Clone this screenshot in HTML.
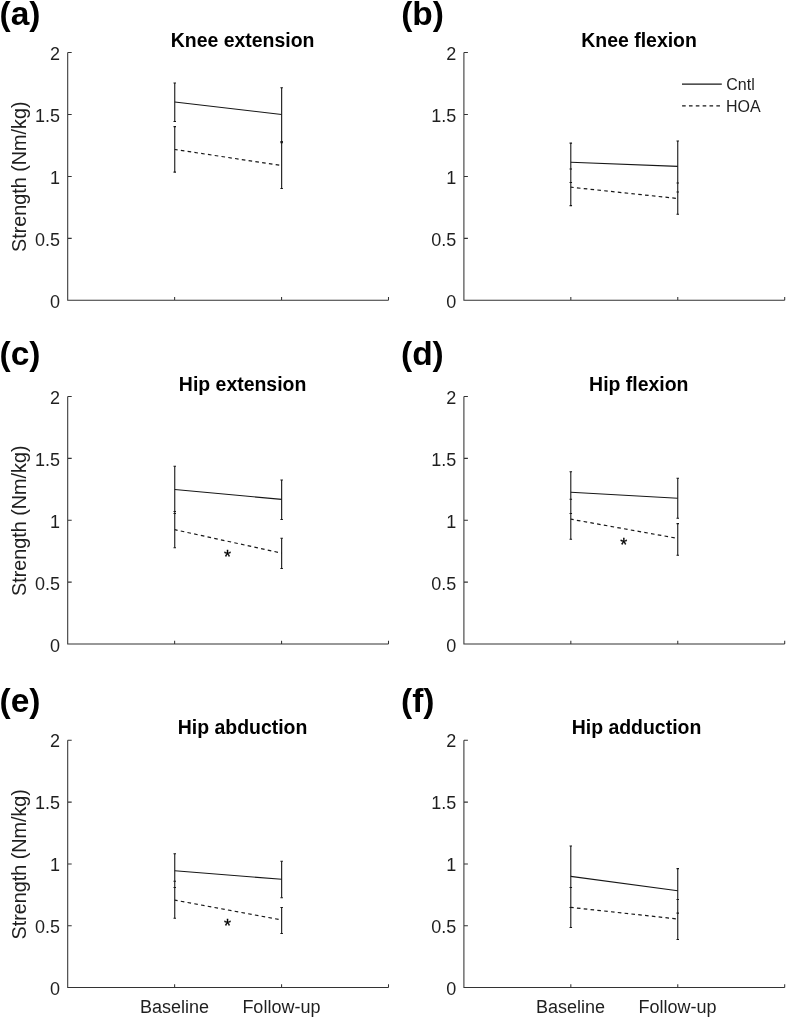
<!DOCTYPE html>
<html lang="en"><head><meta charset="utf-8"><title>Strength figure</title>
<style>
html,body{margin:0;padding:0;background:#fff;}
body{width:787px;height:1018px;overflow:hidden;}
svg{display:block;}
text{font-family:"Liberation Sans", Arial, Helvetica, sans-serif;fill:#1f1f1f;}
.tk{font-size:18px;}
.ti{font-size:19.45px;font-weight:bold;fill:#000;}
.yl{font-size:19.75px;}
.lg{font-size:16px;}
.pn{font-size:33.5px;font-weight:bold;fill:#000;}
.st{font-size:18px;fill:#000;stroke:#000;stroke-width:0.3px;}
.ax{stroke:#333333;stroke-width:1.05;fill:none;}
.ln{stroke:#171717;stroke-width:1.1;fill:none;}
.ds{stroke:#171717;stroke-width:1.2;fill:none;stroke-dasharray:3.6 3.25;stroke-dashoffset:0.7;}
.eb{stroke:#171717;stroke-width:1.1;fill:none;}
.cp{stroke:#171717;stroke-width:1.05;fill:none;}
</style></head><body>
<svg width="787" height="1018" viewBox="0 0 787 1018">
<rect x="0" y="0" width="787" height="1018" fill="#ffffff"/>
<g id="panel-a">
<path class="ax" d="M67.70 52.50V300.30H388.50M67.70 238.35h4.00M67.70 176.40h4.00M67.70 114.45h4.00M67.70 52.50h4.00M174.63 300.30v-3.30M281.57 300.30v-3.30M388.50 300.30v-3.30"/>
<text class="tk" x="60.1" y="307.6" text-anchor="end">0</text>
<text class="tk" x="60.1" y="245.7" text-anchor="end">0.5</text>
<text class="tk" x="60.1" y="183.7" text-anchor="end">1</text>
<text class="tk" x="60.1" y="121.7" text-anchor="end">1.5</text>
<text class="tk" x="60.1" y="59.8" text-anchor="end">2</text>
<text class="yl" transform="translate(26.4 176.7) rotate(-90)" text-anchor="middle">Strength (Nm/kg)</text>
<text class="ti" x="242.6" y="46.6" text-anchor="middle">Knee extension</text>
<text class="pn" x="-0.5" y="24.5">(a)</text>
<path class="eb" d="M174.75 83.00V121.40M281.65 87.80V141.60M174.75 126.60V172.10M281.65 142.60V188.50"/>
<path class="cp" d="M173.50 83.00h2.50M173.50 121.40h2.50M280.40 87.80h2.50M280.40 141.60h2.50M173.50 126.60h2.50M173.50 172.10h2.50M280.40 142.60h2.50M280.40 188.50h2.50"/>
<path class="ln" d="M174.75 102.00L281.65 114.50"/>
<path class="ds" d="M174.75 149.50L281.65 165.50"/>
</g>
<g id="panel-b">
<path class="ax" d="M463.90 52.50V300.30H784.70M463.90 238.35h4.00M463.90 176.40h4.00M463.90 114.45h4.00M463.90 52.50h4.00M570.83 300.30v-3.30M677.77 300.30v-3.30M784.70 300.30v-3.30"/>
<text class="tk" x="456.3" y="307.6" text-anchor="end">0</text>
<text class="tk" x="456.3" y="245.7" text-anchor="end">0.5</text>
<text class="tk" x="456.3" y="183.7" text-anchor="end">1</text>
<text class="tk" x="456.3" y="121.7" text-anchor="end">1.5</text>
<text class="tk" x="456.3" y="59.8" text-anchor="end">2</text>
<text class="ti" x="639.1" y="46.6" text-anchor="middle">Knee flexion</text>
<text class="pn" x="401.2" y="24.5">(b)</text>
<path class="eb" d="M570.80 143.10V182.40M677.75 141.00V192.00M570.80 168.90V205.60M677.75 183.00V214.30"/>
<path class="cp" d="M569.55 143.10h2.50M569.55 182.40h2.50M676.50 141.00h2.50M676.50 192.00h2.50M569.55 168.90h2.50M569.55 205.60h2.50M676.50 183.00h2.50M676.50 214.30h2.50"/>
<path class="ln" d="M570.80 162.30L677.75 166.40"/>
<path class="ds" d="M570.80 187.20L677.75 198.50"/>
</g>
<g id="panel-c">
<path class="ax" d="M67.70 396.50V644.00H388.50M67.70 582.12h4.00M67.70 520.25h4.00M67.70 458.38h4.00M67.70 396.50h4.00M174.63 644.00v-3.30M281.57 644.00v-3.30M388.50 644.00v-3.30"/>
<text class="tk" x="60.1" y="651.8" text-anchor="end">0</text>
<text class="tk" x="60.1" y="589.9" text-anchor="end">0.5</text>
<text class="tk" x="60.1" y="528.0" text-anchor="end">1</text>
<text class="tk" x="60.1" y="466.2" text-anchor="end">1.5</text>
<text class="tk" x="60.1" y="404.3" text-anchor="end">2</text>
<text class="yl" transform="translate(26.4 520.7) rotate(-90)" text-anchor="middle">Strength (Nm/kg)</text>
<text class="ti" x="242.6" y="391.1" text-anchor="middle">Hip extension</text>
<text class="pn" x="-0.5" y="364.7">(c)</text>
<path class="eb" d="M174.75 466.20V513.50M281.65 480.00V519.50M174.75 511.40V547.80M281.65 538.20V568.40"/>
<path class="cp" d="M173.50 466.20h2.50M173.50 513.50h2.50M280.40 480.00h2.50M280.40 519.50h2.50M173.50 511.40h2.50M173.50 547.80h2.50M280.40 538.20h2.50M280.40 568.40h2.50"/>
<path class="ln" d="M174.75 489.50L281.65 499.40"/>
<path class="ds" d="M174.75 529.70L281.65 553.10"/>
<text class="st" x="227.6" y="563.4" text-anchor="middle">*</text>
</g>
<g id="panel-d">
<path class="ax" d="M463.90 396.50V644.00H784.70M463.90 582.12h4.00M463.90 520.25h4.00M463.90 458.38h4.00M463.90 396.50h4.00M570.83 644.00v-3.30M677.77 644.00v-3.30M784.70 644.00v-3.30"/>
<text class="tk" x="456.3" y="651.8" text-anchor="end">0</text>
<text class="tk" x="456.3" y="589.9" text-anchor="end">0.5</text>
<text class="tk" x="456.3" y="528.0" text-anchor="end">1</text>
<text class="tk" x="456.3" y="466.2" text-anchor="end">1.5</text>
<text class="tk" x="456.3" y="404.3" text-anchor="end">2</text>
<text class="ti" x="638.8" y="391.1" text-anchor="middle">Hip flexion</text>
<text class="pn" x="401.0" y="364.7">(d)</text>
<path class="eb" d="M570.80 471.70V513.50M677.75 478.20V518.20M570.80 499.30V539.30M677.75 523.60V555.30"/>
<path class="cp" d="M569.55 471.70h2.50M569.55 513.50h2.50M676.50 478.20h2.50M676.50 518.20h2.50M569.55 499.30h2.50M569.55 539.30h2.50M676.50 523.60h2.50M676.50 555.30h2.50"/>
<path class="ln" d="M570.80 492.30L677.75 498.20"/>
<path class="ds" d="M570.80 519.20L677.75 538.40"/>
<text class="st" x="623.8" y="551.4" text-anchor="middle">*</text>
</g>
<g id="panel-e">
<path class="ax" d="M67.70 740.30V987.50H388.50M67.70 925.70h4.00M67.70 863.90h4.00M67.70 802.10h4.00M67.70 740.30h4.00M174.63 987.50v-3.30M281.57 987.50v-3.30M388.50 987.50v-3.30"/>
<text class="tk" x="60.1" y="994.5" text-anchor="end">0</text>
<text class="tk" x="60.1" y="932.7" text-anchor="end">0.5</text>
<text class="tk" x="60.1" y="870.9" text-anchor="end">1</text>
<text class="tk" x="60.1" y="809.1" text-anchor="end">1.5</text>
<text class="tk" x="60.1" y="747.3" text-anchor="end">2</text>
<text class="tk" x="174.4" y="1012.9" text-anchor="middle">Baseline</text>
<text class="tk" x="281.4" y="1012.9" text-anchor="middle">Follow-up</text>
<text class="yl" transform="translate(26.4 864.3) rotate(-90)" text-anchor="middle">Strength (Nm/kg)</text>
<text class="ti" x="242.6" y="733.6" text-anchor="middle">Hip abduction</text>
<text class="pn" x="-0.5" y="711.6">(e)</text>
<path class="eb" d="M174.75 853.70V887.50M281.65 861.30V897.80M174.75 881.20V918.20M281.65 907.40V933.40"/>
<path class="cp" d="M173.50 853.70h2.50M173.50 887.50h2.50M280.40 861.30h2.50M280.40 897.80h2.50M173.50 881.20h2.50M173.50 918.20h2.50M280.40 907.40h2.50M280.40 933.40h2.50"/>
<path class="ln" d="M174.75 870.70L281.65 879.30"/>
<path class="ds" d="M174.75 900.10L281.65 920.00"/>
<text class="st" x="227.6" y="931.7" text-anchor="middle">*</text>
</g>
<g id="panel-f">
<path class="ax" d="M463.90 740.30V987.50H784.70M463.90 925.70h4.00M463.90 863.90h4.00M463.90 802.10h4.00M463.90 740.30h4.00M570.83 987.50v-3.30M677.77 987.50v-3.30M784.70 987.50v-3.30"/>
<text class="tk" x="456.3" y="994.5" text-anchor="end">0</text>
<text class="tk" x="456.3" y="932.7" text-anchor="end">0.5</text>
<text class="tk" x="456.3" y="870.9" text-anchor="end">1</text>
<text class="tk" x="456.3" y="809.1" text-anchor="end">1.5</text>
<text class="tk" x="456.3" y="747.3" text-anchor="end">2</text>
<text class="tk" x="570.6" y="1012.9" text-anchor="middle">Baseline</text>
<text class="tk" x="677.6" y="1012.9" text-anchor="middle">Follow-up</text>
<text class="ti" x="636.5" y="733.6" text-anchor="middle">Hip adduction</text>
<text class="pn" x="401.0" y="711.8">(f)</text>
<path class="eb" d="M570.80 846.00V907.40M677.75 868.60V913.10M570.80 887.50V927.50M677.75 899.40V939.40"/>
<path class="cp" d="M569.55 846.00h2.50M569.55 907.40h2.50M676.50 868.60h2.50M676.50 913.10h2.50M569.55 887.50h2.50M569.55 927.50h2.50M676.50 899.40h2.50M676.50 939.40h2.50"/>
<path class="ln" d="M570.80 876.40L677.75 890.70"/>
<path class="ds" d="M570.80 907.40L677.75 919.00"/>
</g>
<g id="legend">
<path class="ln" d="M682 84.1H721.8"/>
<path class="ds" style="stroke-dashoffset:0" d="M682.1 105.9H721.8"/>
<text class="lg" x="726.3" y="90.3">Cntl</text>
<text class="lg" x="726.0" y="112.3">HOA</text>
</g>
</svg>
</body></html>
